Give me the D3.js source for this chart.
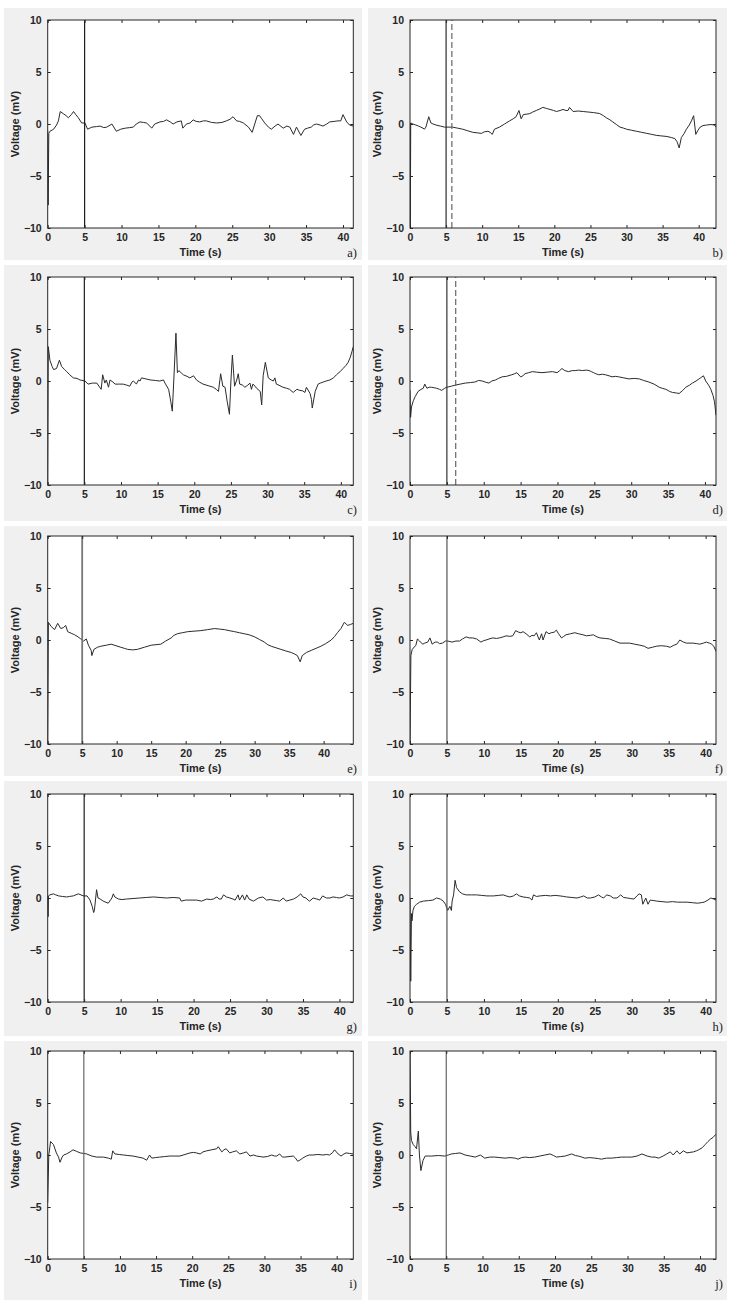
<!DOCTYPE html>
<html><head><meta charset="utf-8">
<script src="https://cdn.jsdelivr.net/npm/d3@7/dist/d3.min.js"></script>
<style>
body{margin:0;background:#fff}
text{font-family:"Liberation Sans",Arial,sans-serif}
</style>
</head><body>
<svg id="c" width="731" height="1300"></svg>
<script>
// ---------- data ----------
const panelLetters = ["a)","b)","c)","d)","e)","f)","g)","h)","i)","j)"];
const xMax = [41.4, 42.4, 41.7, 41.5, 44.3, 41.4, 41.9, 41.4, 42.3, 42.2];
const xTicks = [0,5,10,15,20,25,30,35,40];
const yTicks = [-10,-5,0,5,10];
const solidMarker = [5,5,5,5,5,5,5,5,5,5];
const dashedMarker = [null,5.8,null,6.2,null,null,null,null,null,null];
const markerColor = ["#1e1e1e","#2a2a2a","#1e1e1e","#333","#777","#555","#1e1e1e","#555","#666","#666"];

const traceA = [[0,-0.6],[0.06,-7.8],[0.15,-0.9],[0.3,-0.7],[0.8,-0.5],[1.2,-0.1],[1.45,0.3],[1.7,1.2],[2.1,1.0],[2.5,0.8],[2.8,0.6],[3.2,0.9],[3.5,1.2],[3.8,0.9],[4.15,0.6],[4.6,0.1],[5.05,0.1],[5.4,-0.5],[6.0,-0.3],[6.6,-0.25],[7.1,-0.2],[7.6,-0.35],[8.0,-0.3],[8.7,0],[9.3,-0.7],[9.9,-0.5],[10.5,-0.4],[11.1,-0.35],[11.6,-0.3],[12.0,0],[12.5,0.2],[13.0,0.15],[13.4,0.1],[14.1,-0.4],[14.5,0],[15.2,0.2],[15.7,0.25],[16.1,0.4],[16.6,0.2],[17,0],[17.5,0.2],[18.1,0.3],[18.3,-0.4],[18.8,0],[19.3,0.1],[19.7,0.4],[20.1,0.25],[20.6,0.2],[21.1,0.3],[21.5,0.3],[22.2,0.15],[22.9,0.1],[23.6,0.15],[24.2,0.3],[24.7,0.45],[25.1,0.7],[25.6,0.3],[26.0,0.25],[26.5,0.1],[27.2,-0.3],[27.7,-0.8],[28.4,0.8],[28.7,0.8],[29.0,0.5],[29.4,0.1],[29.9,-0.3],[30.3,-0.5],[30.8,-0.2],[31.2,0],[31.9,-0.4],[32.4,-0.2],[32.8,-0.3],[33.3,-1.0],[33.7,-0.3],[34.3,-1.1],[34.8,-0.5],[35.2,-0.4],[35.7,-0.3],[36.0,-0.1],[36.4,0],[36.9,-0.1],[37.3,-0.2],[37.8,0],[38.2,0.2],[38.8,0.25],[39.3,0.3],[39.7,0.3],[40.0,0.9],[40.5,0.2],[40.9,-0.1],[41.4,-0.2]];

const traceB = [[0,0.1],[0.04,-10.5],[0.1,0.1],[0.4,0],[0.8,-0.1],[1.2,-0.2],[1.5,-0.3],[1.8,-0.4],[2.0,-0.5],[2.2,-0.3],[2.6,0.7],[2.9,0.1],[3.2,0],[3.6,-0.1],[4.2,-0.2],[4.8,-0.3],[5.4,-0.3],[5.9,-0.3],[6.6,-0.4],[7.3,-0.5],[8.0,-0.65],[8.7,-0.8],[9.3,-0.85],[9.9,-0.9],[10.3,-0.75],[10.8,-0.7],[11.1,-0.8],[11.4,-1.0],[11.7,-0.5],[12.4,-0.3],[13.1,0],[13.8,0.3],[14.3,0.5],[14.7,0.7],[15.1,1.3],[15.4,0.5],[15.7,0.9],[16.2,0.95],[16.6,1.0],[17.0,1.15],[17.5,1.3],[18.0,1.45],[18.4,1.6],[18.9,1.5],[19.4,1.4],[19.9,1.3],[20.3,1.2],[20.8,1.3],[21.2,1.4],[21.6,1.3],[21.9,1.3],[22.1,1.6],[22.6,1.2],[23.3,1.25],[24.0,1.2],[24.7,1.15],[25.4,1.1],[25.9,1.05],[26.3,1.0],[26.8,0.8],[27.2,0.6],[27.7,0.4],[28.1,0.2],[28.6,-0.05],[29.1,-0.3],[29.6,-0.4],[30.0,-0.5],[30.7,-0.6],[31.4,-0.7],[32.1,-0.8],[32.8,-0.9],[33.5,-1.0],[34.2,-1.1],[34.9,-1.15],[35.6,-1.2],[36.2,-1.3],[36.7,-1.4],[37.0,-1.7],[37.3,-2.3],[37.6,-1.3],[38.0,-0.9],[38.3,-0.5],[38.7,-0.1],[39.0,0.3],[39.3,0.8],[39.6,-1.0],[39.9,-0.6],[40.2,-0.3],[40.6,-0.15],[41.1,-0.1],[41.7,-0.05],[42.2,-0.1],[42.4,-0.3]];

const traceC = [[0,-10.5],[0.08,3.3],[0.3,2.0],[0.6,1.4],[0.8,1.1],[1.2,1.2],[1.6,2.0],[1.9,1.4],[2.3,1.1],[2.6,0.9],[3.0,0.6],[3.5,0.3],[4.0,0.25],[4.4,0.1],[5.1,0],[5.5,-0.3],[6.1,-0.2],[6.7,-0.2],[7.3,-0.8],[7.5,0.6],[7.8,-0.2],[8.0,0.1],[8.3,-0.6],[8.5,0.1],[8.9,-0.1],[9.2,-0.3],[9.8,-0.3],[10.3,-0.3],[10.8,-0.4],[11.2,-0.5],[11.5,-0.1],[11.7,0],[12.1,-0.3],[12.4,0.1],[12.6,0],[12.8,0.3],[13.4,0.2],[14,0.1],[14.7,0.05],[15.3,0.0],[15.8,0.1],[16.0,-0.2],[16.5,-0.8],[16.8,-2.0],[17.0,-2.9],[17.2,0],[17.5,4.6],[17.7,0.8],[17.9,1.0],[18.2,0.8],[18.5,0.6],[19.0,0.45],[19.4,0.3],[19.9,0.5],[20.3,0.1],[20.7,-0.1],[21.2,-0.3],[21.9,-0.45],[22.6,-0.6],[23.0,-0.8],[23.3,-1.0],[23.6,0.7],[23.9,-0.5],[24.2,-0.6],[24.5,-2.0],[24.8,-3.2],[25.0,0],[25.2,2.5],[25.5,-0.5],[25.8,0.1],[26.0,0.7],[26.2,-0.3],[26.6,-0.4],[26.9,-0.6],[27.3,-0.4],[27.6,-0.2],[27.8,-0.8],[28.0,-0.3],[28.3,-0.5],[28.5,-0.7],[29.0,-1.0],[29.2,-2.3],[29.4,0.5],[29.7,1.8],[30.1,0.3],[30.5,0.1],[30.8,0.0],[31.0,0.3],[31.2,-0.3],[31.7,-0.45],[32.1,-0.6],[32.6,-0.7],[33.0,-0.8],[33.5,-1.1],[34.0,-0.8],[34.4,-0.9],[34.8,-0.95],[35.1,-1.1],[35.3,-0.6],[35.8,-1.2],[36.0,-1.8],[36.1,-2.6],[36.5,-1.0],[36.9,-0.3],[37.2,-0.2],[37.6,-0.1],[38.0,0],[38.5,0.1],[39.0,0.3],[39.4,0.6],[39.9,0.9],[40.3,1.2],[40.7,1.5],[41.0,1.8],[41.3,2.3],[41.5,2.8],[41.7,3.3]];

const traceD = [[0,-0.9],[0.08,-3.5],[0.2,-2.5],[0.45,-1.9],[0.7,-1.5],[1.1,-1.0],[1.5,-0.8],[1.8,-0.7],[2.0,-0.3],[2.3,-0.7],[2.6,-0.6],[2.9,-0.6],[3.3,-0.65],[3.6,-0.7],[4.0,-0.8],[4.3,-0.9],[4.7,-0.7],[5,-0.6],[5.6,-0.5],[6.1,-0.4],[6.8,-0.3],[7.5,-0.2],[8.2,-0.15],[8.8,-0.1],[9.3,0.05],[9.8,0.0],[10.2,-0.1],[10.7,-0.2],[11.1,0.0],[11.6,0.1],[12.0,0.25],[12.5,0.4],[13.1,0.45],[13.8,0.6],[14.2,0.7],[14.5,0.8],[15,0.4],[15.3,0.5],[15.6,0.7],[16.1,0.8],[16.6,0.9],[17.2,0.85],[17.9,0.8],[18.6,0.85],[19.3,0.9],[19.95,0.8],[20.3,1.0],[20.6,1.2],[21.0,1.0],[21.5,0.9],[22.0,1.0],[22.4,1.0],[22.9,1.05],[23.4,1.0],[23.9,1.05],[24.3,1.0],[24.6,0.9],[24.9,0.8],[25.2,0.7],[25.6,0.6],[26.1,0.65],[26.5,0.6],[27.0,0.5],[27.4,0.4],[27.9,0.45],[28.3,0.4],[29.0,0.3],[29.7,0.2],[30.4,0.25],[31.1,0.2],[31.7,0.05],[32.4,-0.1],[33.1,-0.3],[33.8,-0.6],[34.2,-0.7],[34.7,-0.8],[35.2,-1.0],[35.6,-1.1],[36.1,-1.15],[36.5,-1.2],[37.0,-0.9],[37.4,-0.6],[37.9,-0.4],[38.3,-0.2],[38.8,0],[39.2,0.2],[39.5,0.35],[39.8,0.5],[40.1,0.0],[40.5,-0.4],[40.8,-0.8],[41.1,-1.4],[41.3,-2.0],[41.5,-3.3]];

const traceE = [[0,-10.5],[0.1,1.7],[0.5,1.3],[1.0,1.0],[1.45,1.6],[1.9,1.1],[2.3,1.2],[2.6,1.4],[2.9,0.8],[3.4,0.65],[3.9,0.5],[4.4,0.3],[4.8,0.1],[5.2,-0.1],[5.6,0.1],[5.9,-0.5],[6.3,-1.0],[6.4,-1.5],[6.7,-0.9],[7.2,-0.7],[7.7,-0.6],[8.5,-0.5],[9.2,-0.4],[9.9,-0.55],[10.6,-0.7],[11.1,-0.8],[11.6,-0.9],[12.3,-0.95],[13,-0.9],[14,-0.7],[15,-0.5],[15.7,-0.45],[16.4,-0.4],[17.1,-0.1],[17.9,0.2],[18.3,0.45],[18.8,0.6],[19.5,0.7],[20.3,0.8],[21.2,0.85],[22.2,0.9],[23.2,1.0],[24.2,1.1],[24.9,1.05],[25.6,1.0],[26.3,0.9],[27.1,0.8],[27.8,0.7],[28.5,0.6],[29.2,0.5],[30,0.3],[30.7,0.05],[31.4,-0.2],[31.9,-0.45],[32.4,-0.6],[33.1,-0.75],[33.8,-0.9],[34.5,-1.05],[35.3,-1.2],[35.8,-1.35],[36.2,-1.5],[36.6,-2.1],[36.9,-1.5],[37.5,-1.2],[38.2,-1.0],[38.9,-0.8],[39.6,-0.6],[40.3,-0.35],[41.1,0.0],[41.6,0.35],[42,0.7],[42.5,1.1],[43,1.7],[43.5,1.4],[43.9,1.5],[44.3,1.6]];

const traceF = [[0,-10.5],[0.12,-1.5],[0.3,-0.9],[0.8,-0.5],[1.0,0.1],[1.3,-0.1],[1.7,-0.4],[2.0,-0.3],[2.4,-0.2],[2.7,0.2],[3.0,-0.4],[3.4,-0.2],[3.7,-0.2],[4.0,-0.35],[4.4,-0.3],[4.8,-0.1],[5.1,-0.1],[5.4,-0.15],[5.7,-0.2],[6.2,-0.1],[6.7,-0.1],[7.1,0.1],[7.6,0.3],[8.0,0.2],[8.5,0.2],[9.0,0.1],[9.6,-0.2],[10.0,-0.05],[10.3,0],[10.7,0.1],[11.2,0.2],[11.7,0.15],[12.1,0.2],[12.6,0.3],[13,0.4],[13.5,0.35],[13.9,0.4],[14.3,0.9],[14.7,0.75],[15.0,0.7],[15.3,0.8],[15.7,0.6],[16.2,0.3],[16.5,0.45],[16.8,0.4],[17.1,0.7],[17.5,0.0],[17.8,0.6],[18.0,0.0],[18.4,0.8],[18.8,0.6],[19.1,0.7],[19.5,0.75],[19.8,0.95],[20.1,0.6],[20.5,0.2],[20.8,0.35],[21.1,0.5],[21.7,0.6],[22.3,0.7],[22.8,0.6],[23.4,0.5],[23.9,0.4],[24.4,0.45],[24.8,0.5],[25.3,0.3],[25.7,0.2],[26.4,0.15],[27,0.1],[27.7,-0.1],[28.4,-0.3],[29.1,-0.3],[29.7,-0.3],[30.4,-0.4],[31.1,-0.5],[31.7,-0.6],[32.2,-0.8],[32.8,-0.7],[33.3,-0.6],[34.0,-0.55],[34.7,-0.6],[35.2,-0.7],[35.7,-0.5],[36.1,-0.4],[36.5,0],[37.0,-0.2],[37.4,-0.3],[37.9,-0.3],[38.3,-0.3],[38.8,-0.35],[39.2,-0.4],[39.7,-0.3],[40.1,-0.2],[40.5,-0.3],[40.8,-0.4],[41.1,-0.6],[41.4,-1.1]];

const traceG = [[0,0.2],[0.05,-1.8],[0.1,0.2],[0.3,0.3],[0.8,0.4],[1.1,0.3],[1.5,0.2],[2.0,0.15],[2.6,0.1],[3.0,0.15],[3.5,0.2],[4.2,0.4],[4.9,0.2],[5.4,0.2],[5.8,-0.2],[6.1,-0.8],[6.3,-1.4],[6.4,-1.2],[6.7,0.8],[6.9,0.0],[7.2,-0.1],[7.6,-0.3],[8.3,-0.5],[8.8,0.0],[9.0,0.4],[9.2,0.1],[9.7,-0.1],[10.2,-0.15],[10.8,-0.1],[11.7,-0.05],[12.6,0],[13.5,0.05],[14.5,0.1],[15.4,0.05],[16.3,0.0],[17.2,0.05],[18.1,0.0],[18.3,-0.3],[18.9,-0.2],[19.5,-0.2],[20.4,-0.2],[21.1,-0.3],[21.8,-0.1],[22.3,-0.15],[22.7,-0.1],[23.2,0.1],[23.5,-0.1],[23.8,-0.1],[24.1,0.3],[24.5,0.1],[25,0],[25.4,-0.1],[25.7,-0.2],[26.1,0.3],[26.3,-0.2],[26.7,0.3],[27,-0.2],[27.3,0.3],[27.6,-0.1],[28.2,-0.3],[28.9,0],[29.5,0.1],[30,-0.2],[30.5,-0.15],[30.9,-0.2],[31.4,-0.25],[31.8,-0.3],[32.3,0],[32.7,-0.3],[33.2,-0.2],[33.7,-0.1],[34.2,0.1],[34.7,0.4],[35,0.1],[35.4,0.0],[35.7,-0.2],[35.9,-0.3],[36.4,0],[36.9,-0.1],[37.3,-0.2],[37.7,0.2],[38.2,0],[38.7,0.0],[39.1,0.1],[39.6,0.05],[40.0,0.0],[40.5,0.1],[41.0,0.3],[41.5,0.2],[41.9,0.2]];

const traceH = [[0,0],[0.1,-8.0],[0.2,-1.5],[0.27,-2.2],[0.4,-1.2],[0.6,-0.8],[0.9,-0.6],[1.3,-0.4],[1.8,-0.3],[2.5,-0.25],[3.1,-0.2],[3.6,0],[4.1,-0.1],[4.5,-0.3],[4.8,-0.6],[5.1,-1.2],[5.4,-0.8],[5.6,-1.2],[5.7,-0.3],[5.9,0.3],[6.1,1.7],[6.3,1.0],[6.7,0.6],[7.1,0.4],[7.6,0.3],[8.3,0.3],[9,0.3],[9.7,0.25],[10.4,0.2],[10.9,0.2],[11.3,0.2],[12.0,0.25],[12.6,0.3],[13,0.2],[13.5,0.1],[14.0,0.2],[14.4,0.4],[14.8,0.2],[15.3,0.1],[15.8,0.05],[16.2,0],[16.5,-0.2],[16.7,0.3],[17.1,0.15],[17.6,0.2],[18.3,0.25],[19,0.2],[19.6,0.25],[20.3,0.2],[20.8,0.15],[21.2,0.1],[21.9,0.05],[22.6,0.0],[23.1,0.1],[23.5,0.2],[24.0,0.0],[24.4,0],[25.0,0.1],[25.5,0.3],[25.9,0.1],[26.2,0],[26.6,0.3],[27.1,0.2],[27.5,0.0],[28,0],[28.5,0.3],[28.9,0.05],[29.4,0],[29.8,-0.05],[30.3,-0.1],[30.7,0.2],[31,0.4],[31.3,0.3],[31.5,-0.6],[31.9,0.0],[32.2,-0.6],[32.5,-0.2],[33,-0.25],[33.4,-0.3],[34.1,-0.35],[34.8,-0.4],[35.5,-0.35],[36.2,-0.4],[36.9,-0.4],[37.5,-0.4],[38.2,-0.45],[38.9,-0.5],[39.4,-0.45],[39.8,-0.4],[40.3,-0.2],[40.7,0],[41.1,-0.1],[41.4,-0.2]];

const traceI = [[0,-4.6],[0.15,0],[0.4,1.3],[0.8,1.0],[1.2,0.2],[1.5,-0.2],[1.7,-0.7],[2.0,-0.2],[2.2,0.0],[2.6,0.1],[3.1,0.3],[3.5,0.5],[4.0,0.35],[4.5,0.2],[5.0,0.15],[5.4,0.1],[6.1,-0.1],[6.8,-0.2],[7.7,-0.2],[8.4,-0.3],[8.8,-0.4],[9.0,0.4],[9.3,0.1],[9.9,0.05],[10.5,0.0],[11.1,-0.05],[11.8,-0.1],[12.5,-0.2],[13.2,-0.3],[13.7,-0.5],[14.1,0.0],[14.4,-0.3],[14.9,-0.25],[15.5,-0.2],[16.2,-0.15],[16.9,-0.1],[17.6,-0.1],[18.3,-0.1],[19.0,0.05],[19.7,0.2],[20.2,0.25],[20.6,0.2],[21.1,0.1],[21.5,0.3],[22,0.4],[22.7,0.5],[23.4,0.6],[23.6,0.8],[24.1,0.3],[24.4,0.5],[24.7,0.6],[25.2,0.2],[25.6,0.3],[26.1,0.4],[26.6,0.1],[27.1,0.2],[27.5,0.3],[28,-0.1],[28.5,0],[28.9,-0.1],[29.4,-0.15],[29.8,-0.2],[30.4,-0.15],[31,0.0],[31.4,-0.1],[31.7,-0.1],[32.1,0.1],[32.5,-0.2],[32.8,-0.2],[33.4,-0.15],[34,-0.1],[34.3,-0.3],[34.6,-0.6],[34.9,-0.5],[35.3,-0.3],[35.8,-0.1],[36.2,0.0],[36.7,0],[37.4,0.05],[38.1,0],[38.6,0.05],[39,0],[39.4,0.2],[39.7,0.5],[40.2,0.1],[40.6,-0.1],[41.0,0.1],[41.3,0.2],[41.8,0.15],[42.3,0.1]];

const traceJ = [[0,10.5],[0.1,2.2],[0.2,1.4],[0.45,1.0],[0.7,0.8],[0.9,0.6],[1.15,2.3],[1.3,0.0],[1.5,-1.5],[1.8,-0.5],[2.1,-0.1],[2.6,-0.1],[3.0,-0.1],[3.9,-0.05],[4.8,-0.1],[5.3,0.0],[5.7,0.1],[6.3,0.15],[6.9,0.2],[7.6,0.0],[8.3,-0.1],[9,-0.2],[9.7,0.0],[10.3,-0.3],[11.0,-0.2],[11.7,-0.2],[12.4,-0.25],[13.1,-0.3],[13.8,-0.25],[14.5,-0.3],[14.9,-0.4],[15.4,-0.25],[15.9,-0.2],[16.5,-0.25],[17.2,-0.2],[17.9,-0.1],[18.6,0.0],[19.3,0.1],[19.8,-0.05],[20.2,-0.2],[20.8,-0.15],[21.4,-0.1],[22.3,0.1],[22.8,-0.05],[23.2,-0.1],[23.7,-0.2],[24.1,-0.3],[24.8,-0.25],[25.5,-0.3],[26.0,-0.35],[26.4,-0.4],[27.1,-0.3],[27.8,-0.3],[28.5,-0.25],[29.2,-0.2],[29.9,-0.2],[30.6,-0.2],[31.3,-0.1],[32,0.1],[32.7,-0.1],[33.3,-0.2],[33.8,-0.2],[34.3,-0.3],[34.6,-0.2],[34.9,-0.1],[35.4,0.1],[35.9,0.3],[36.3,0.0],[36.8,0.4],[37.2,0.1],[37.7,0.4],[38.2,0.2],[38.6,0.25],[39.1,0.3],[39.5,0.4],[39.8,0.5],[40.3,0.7],[40.7,1.0],[41.1,1.3],[41.4,1.5],[41.8,1.7],[42.2,2.0]];

const traces = [traceA,traceB,traceC,traceD,traceE,traceF,traceG,traceH,traceI,traceJ];

// ---------- layout ----------
const cols = [
  {bg0:4, bg1:362, pl:47.7, pr:353.3, letterX:357},
  {bg0:368, bg1:727, pl:410, pr:716, letterX:723}
];
const rows = [
  {bg0:8, bg1:260, pt:20},
  {bg0:265, bg1:521, pt:277},
  {bg0:526, bg1:776, pt:536},
  {bg0:781, bg1:1036, pt:794},
  {bg0:1041, bg1:1300, pt:1051}
];
const ph = 208;

const svg = d3.select("#c");
const defs = svg.append("defs");

traces.forEach((tr, i) => {
  const r = rows[Math.floor(i/2)], c = cols[i%2];
  const g = svg.append("g");
  g.append("rect").attr("x", c.bg0).attr("y", r.bg0)
    .attr("width", c.bg1 - c.bg0).attr("height", r.bg1 - r.bg0).attr("fill", "#f0f0f0");
  const x = d3.scaleLinear().domain([0, xMax[i]]).range([c.pl, c.pr]);
  const y = d3.scaleLinear().domain([-10, 10]).range([r.pt + ph, r.pt]);
  g.append("rect").attr("x", c.pl).attr("y", r.pt).attr("width", c.pr - c.pl).attr("height", ph).attr("fill", "#fff");

  const cid = "clip" + i;
  defs.append("clipPath").attr("id", cid).append("rect")
    .attr("x", c.pl).attr("y", r.pt).attr("width", c.pr - c.pl).attr("height", ph);
  const pg = g.append("g").attr("clip-path", `url(#${cid})`);

  // trace
  pg.append("path").datum(tr)
    .attr("d", d3.line().x(d => x(d[0])).y(d => y(d[1])))
    .attr("fill", "none").attr("stroke", "#2b2b2b").attr("stroke-width", 1)
    .attr("stroke-linejoin", "round");

  // markers
  pg.append("line").attr("x1", x(solidMarker[i])).attr("x2", x(solidMarker[i]))
    .attr("y1", y(-10)).attr("y2", y(10))
    .attr("stroke", markerColor[i]).attr("stroke-width", i === 4 ? 1.8 : 1.2);
  if (dashedMarker[i] !== null) {
    pg.append("line").attr("x1", x(dashedMarker[i])).attr("x2", x(dashedMarker[i]))
      .attr("y1", y(-10)).attr("y2", y(10))
      .attr("stroke", "#666").attr("stroke-width", 1.2).attr("stroke-dasharray", "6,3");
  }

  // axes (ticks inward on all sides)
  const axStyle = sel => {
    sel.selectAll("text").attr("font-size", 10.5).attr("font-weight", "bold").attr("fill", "#262626")
      .style("font-family", '"Liberation Sans",Arial,sans-serif');
    sel.selectAll("line").attr("stroke", "#262626");
    sel.select(".domain").remove();
  };
  g.append("g").attr("transform", `translate(0,${r.pt+ph})`)
    .call(d3.axisBottom(x).tickValues(xTicks).tickSize(-3).tickPadding(6).tickFormat(d3.format("d")))
    .call(axStyle);
  g.append("g").attr("transform", `translate(0,${r.pt})`)
    .call(d3.axisTop(x).tickValues(xTicks).tickSize(-3).tickFormat(""))
    .call(axStyle);
  g.append("g").attr("transform", `translate(${c.pl},0)`)
    .call(d3.axisLeft(y).tickValues(yTicks).tickSize(-3).tickPadding(6).tickFormat(d3.format("d")))
    .call(axStyle);
  g.append("g").attr("transform", `translate(${c.pr},0)`)
    .call(d3.axisRight(y).tickValues(yTicks).tickSize(-3).tickFormat(""))
    .call(axStyle);

  g.append("rect").attr("x", c.pl).attr("y", r.pt).attr("width", c.pr - c.pl).attr("height", ph)
    .attr("fill", "none").attr("stroke", "#262626").attr("stroke-width", 1);

  // axis titles
  g.append("text").attr("x", (c.pl + c.pr)/2).attr("y", r.pt + ph + 28)
    .attr("text-anchor", "middle").attr("font-size", 11).attr("font-weight", "bold").attr("fill", "#262626")
    .text("Time (s)");
  g.append("text").attr("transform", `translate(${c.pl - 29},${r.pt + ph/2}) rotate(-90)`)
    .attr("text-anchor", "middle").attr("font-size", 11).attr("font-weight", "bold").attr("fill", "#262626")
    .text("Voltage (mV)");
  g.append("text").attr("x", c.letterX).attr("y", r.pt + ph + 29)
    .attr("text-anchor", "end").attr("font-size", 12.5).attr("fill", "#222")
    .style("font-family", '"Liberation Serif","Times New Roman",serif')
    .text(panelLetters[i]);
});
</script>
</body></html>
